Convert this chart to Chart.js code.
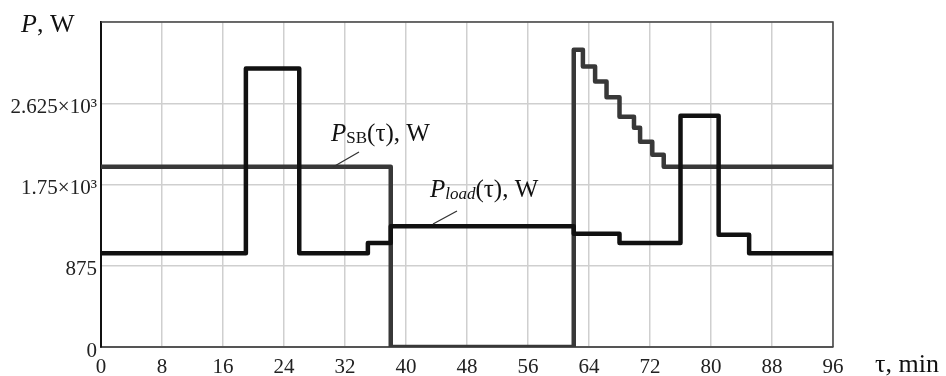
<!DOCTYPE html>
<html>
<head>
<meta charset="utf-8">
<script src="https://cdn.jsdelivr.net/npm/chart.js@4.4.1/dist/chart.umd.min.js"></script>
<style>
  html, body { margin: 0; padding: 0; background: #fff; }
  #wrap { width: 946px; height: 376px; }
</style>
</head>
<body>
<div id="wrap"><canvas id="chart" width="946" height="376"></canvas></div>
<script>
// --- data ---
const loadTimes = [0, 19, 26, 35, 38, 62, 68, 76, 81, 85, 96];
const loadPower = [1010, 3000, 1010, 1120, 1300, 1220, 1120, 2490, 1210, 1010, 1010];

const sbTimes = [0, 38, 62, 63.2, 64.8, 66.3, 68, 69.9, 70.7, 72.3, 73.8, 96];
const sbPower = [1940, 0, 3200, 3020, 2860, 2690, 2480, 2360, 2210, 2070, 1940, 1940];

const yTicks = [0, 875, 1750, 2625, 3500];
const yTickLabels = ['0', '875', '1.75×10³', '2.625×10³', ''];
const xTicks = [0, 8, 16, 24, 32, 40, 48, 56, 64, 72, 80, 88, 96];

const SERIF = '"Liberation Serif", "Times New Roman", serif';

function toPoints(xs, ys) {
  return xs.map((x, i) => ({ x: x, y: ys[i] }));
}

// draws text made of pieces (italic / subscript) from x along baseline y
function richText(ctx, x, y, parts) {
  parts.forEach(p => {
    ctx.font = (p.italic ? 'italic ' : '') + p.size + 'px ' + SERIF;
    ctx.fillText(p.text, x, y + (p.dy || 0));
    x += ctx.measureText(p.text).width;
  });
}

const framePlugin = {
  id: 'frame',
  beforeDatasetsDraw(chart) {
    const { ctx, chartArea: a } = chart;
    ctx.save();
    ctx.strokeStyle = '#444';
    ctx.lineWidth = 1.5;
    ctx.beginPath();
    ctx.moveTo(a.left, a.top);
    ctx.lineTo(a.right, a.top);
    ctx.lineTo(a.right, a.bottom);
    ctx.stroke();
    ctx.restore();
  }
};

const labelsPlugin = {
  id: 'labels',
  afterDraw(chart) {
    const ctx = chart.ctx;
    ctx.save();
    ctx.fillStyle = '#111';
    ctx.textBaseline = 'alphabetic';
    ctx.textAlign = 'left';

    // axis titles
    richText(ctx, 21, 32, [
      { text: 'P', italic: true, size: 26 },
      { text: ', W', size: 26 }
    ]);
    richText(ctx, 875, 372, [{ text: 'τ, min', size: 26 }]);

    // series labels
    richText(ctx, 331, 141, [
      { text: 'P', italic: true, size: 25 },
      { text: 'SB', size: 17, dy: 2 },
      { text: '(τ), W', size: 25 }
    ]);
    richText(ctx, 430, 197, [
      { text: 'P', italic: true, size: 25 },
      { text: 'load', italic: true, size: 17, dy: 2 },
      { text: '(τ), W', size: 25 }
    ]);

    // leader lines
    ctx.strokeStyle = '#333';
    ctx.lineWidth = 1.3;
    ctx.beginPath();
    ctx.moveTo(333, 167); ctx.lineTo(359, 152);
    ctx.moveTo(433, 224); ctx.lineTo(457, 211);
    ctx.stroke();
    ctx.restore();
  }
};

new Chart(document.getElementById('chart'), {
  type: 'line',
  data: {
    datasets: [
      {
        label: 'P_load',
        data: toPoints(loadTimes, loadPower),
        stepped: 'before',
        borderColor: '#111',
        borderWidth: 4.5,
        borderJoinStyle: 'round',
        pointRadius: 0,
        fill: false
      },
      {
        label: 'P_SB',
        data: toPoints(sbTimes, sbPower),
        stepped: 'before',
        borderColor: '#383838',
        borderWidth: 4.5,
        borderJoinStyle: 'round',
        pointRadius: 0,
        fill: false
      }
    ]
  },
  options: {
    responsive: false,
    animation: false,
    devicePixelRatio: 1,
    layout: { padding: { left: 0, right: 113, top: 22, bottom: 0 } },
    plugins: { legend: { display: false }, tooltip: { enabled: false } },
    scales: {
      x: {
        type: 'linear',
        min: 0, max: 96,
        afterFit: s => { s.height = 29; },
        afterBuildTicks: s => { s.ticks = xTicks.map(v => ({ value: v })); },
        ticks: {
          font: { family: SERIF, size: 21 },
          color: '#222',
          padding: 8,
          maxRotation: 0,
          autoSkip: false
        },
        grid: { color: '#cfcfcf', lineWidth: 1.5, drawTicks: false },
        border: { color: '#555', width: 2 }
      },
      y: {
        type: 'linear',
        min: 0, max: 3500,
        afterFit: s => { s.width = 101; },
        afterBuildTicks: s => { s.ticks = yTicks.map(v => ({ value: v })); },
        ticks: {
          font: { family: SERIF, size: 21 },
          color: '#222',
          padding: 4,
          labelOffset: 4,
          autoSkip: false,
          callback: v => yTickLabels[yTicks.indexOf(v)]
        },
        grid: { color: '#cfcfcf', lineWidth: 1.5, drawTicks: false },
        border: { color: '#111', width: 2 }
      }
    }
  },
  plugins: [framePlugin, labelsPlugin]
});
</script>
</body>
</html>
